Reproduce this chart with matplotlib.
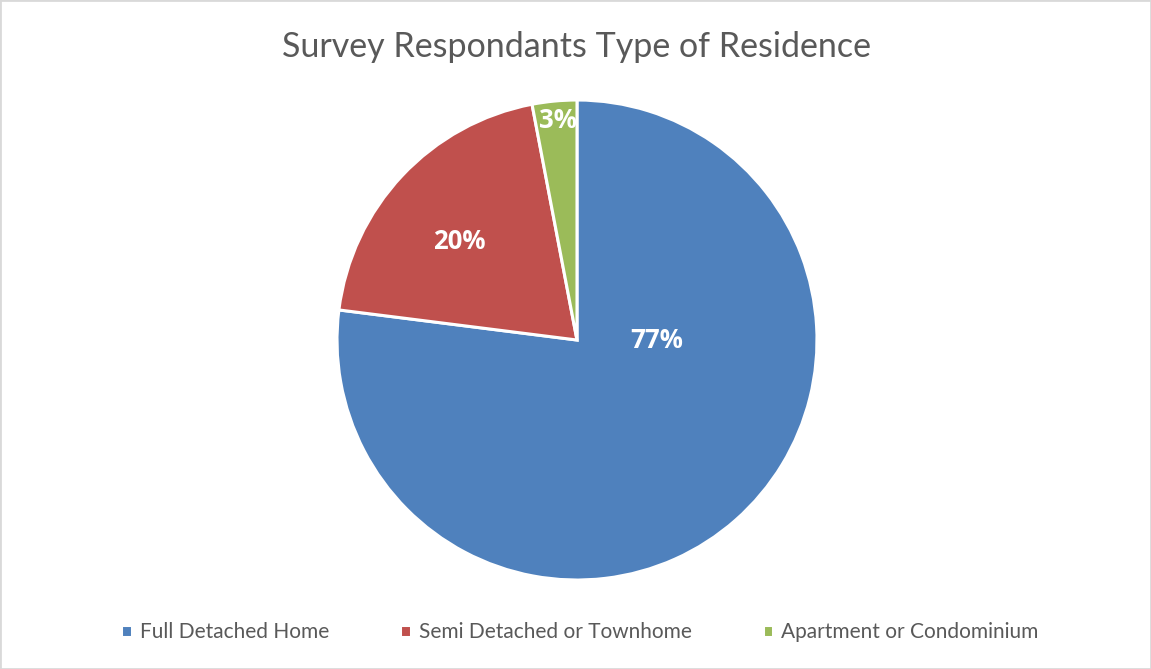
import numpy as np
import matplotlib.pyplot as plt
from matplotlib.patches import Rectangle

categories = ['Full Detached Home', 'Semi Detached or Townhome', 'Apartment or Condominium']
shares = [77, 20, 3]
colors = ['#4F81BD', '#C0504D', '#9BBB59']
# label placement (distance from centre as fraction of radius, angle in degrees)
label_dist = [0.33, 0.64, 0.92]
label_ang = [0, 140, 95]

plt.rcParams['font.family'] = ['Lato', 'DejaVu Sans']

fig = plt.figure(figsize=(11.51, 6.69), dpi=100)
fig.patches.append(Rectangle((0, 0), 1, 1, transform=fig.transFigure,
                             fill=False, edgecolor='#D9D9D9', linewidth=2))

ax = fig.add_axes([0.2928, 0.133, 0.417, 0.7175])
wedges, _ = ax.pie(shares, colors=colors, startangle=90, counterclock=False,
                   wedgeprops=dict(edgecolor='white', linewidth=2.2))
ax.set_xlim(-1, 1)
ax.set_ylim(-1, 1)
ax.set_aspect('auto')

for v, d, a in zip(shares, label_dist, label_ang):
    t = np.deg2rad(a)
    ax.text(d * np.cos(t), d * np.sin(t), f'{v}%', ha='center', va='center',
            color='white', fontsize=18.5, fontweight='bold', family='Open Sans')

fig.text(0.5013, 0.93, 'Survey Respondants Type of Residence', ha='center', va='center',
         fontsize=24.5, color='#595959')

fig.legend(wedges, categories, loc='center', bbox_to_anchor=(0.504, 0.055), ncol=3,
           frameon=False, fontsize=15, labelcolor='#595959', handlelength=0.5,
           handleheight=0.5, handletextpad=0.4, columnspacing=3.4)

fig.savefig('out.png', dpi=100)
